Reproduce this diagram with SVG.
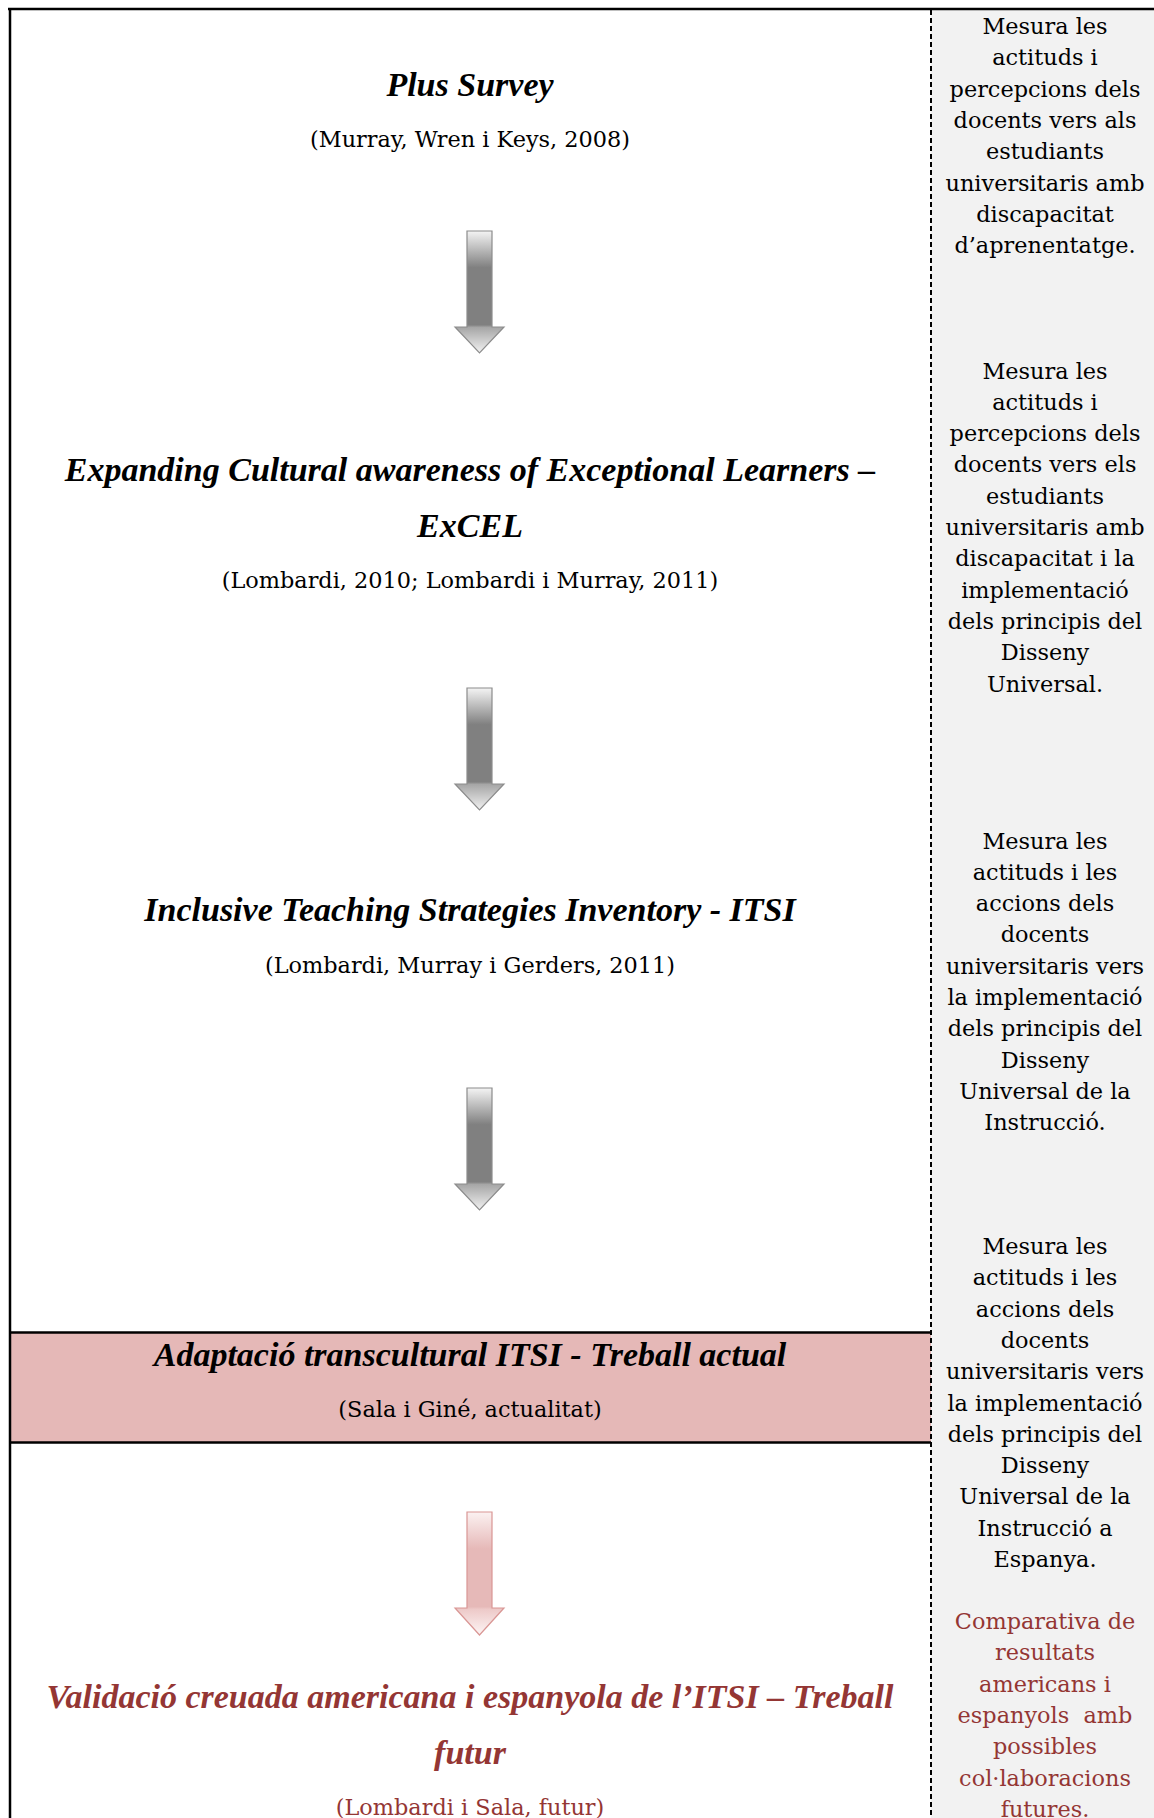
<svg xmlns="http://www.w3.org/2000/svg" width="1154" height="1818" viewBox="0 0 1154 1818">
<style>
.t{font-family:"Liberation Serif","Times New Roman",serif;font-weight:bold;font-style:italic;font-size:34px;text-anchor:middle;fill:#000}
.c{font-family:"DejaVu Serif",serif;font-size:22.4px;text-anchor:middle;fill:#000}
.r{font-family:"DejaVu Serif",serif;font-size:22.4px;text-anchor:middle;fill:#000}
.red{fill:#943634}
.ln{stroke:#000;stroke-width:2.5;fill:none}
</style>
<defs>
<linearGradient id="gGray" x1="0" y1="0" x2="0" y2="1">
<stop offset="0" stop-color="#f4f4f4"/>
<stop offset="0.3" stop-color="#808080"/>
<stop offset="0.77" stop-color="#808080"/>
<stop offset="0.79" stop-color="#a6a6a6"/>
<stop offset="1" stop-color="#f2f2f2"/>
</linearGradient>
<linearGradient id="gPink" x1="0" y1="0" x2="0" y2="1">
<stop offset="0" stop-color="#fbf1f1"/>
<stop offset="0.3" stop-color="#e6b9b8"/>
<stop offset="0.77" stop-color="#e6b9b8"/>
<stop offset="0.79" stop-color="#edc9c8"/>
<stop offset="1" stop-color="#fdf5f5"/>
</linearGradient>
</defs>

<rect x="931" y="9" width="223" height="1809" fill="#f2f2f2"/>
<rect x="10" y="1332.5" width="921" height="110" fill="#e5b8b7"/>
<line class="ln" x1="8" y1="9" x2="1154" y2="9"/>
<line class="ln" x1="10" y1="8" x2="10" y2="1818"/>
<line class="ln" x1="10" y1="1332.5" x2="931" y2="1332.5"/>
<line class="ln" x1="10" y1="1442.5" x2="931" y2="1442.5"/>
<line x1="931" y1="10" x2="931" y2="1818" stroke="#000" stroke-width="2" stroke-dasharray="5 3"/>

<g id="connectors">
<path d="M467,231 H492 V327 H504 L479.5,353 L455,327 H467 Z" fill="url(#gGray)" stroke="#8c8c8c" stroke-width="1.2"/>
<path d="M467,688 H492 V784 H504 L479.5,810 L455,784 H467 Z" fill="url(#gGray)" stroke="#8c8c8c" stroke-width="1.2"/>
<path d="M467,1088 H492 V1184 H504 L479.5,1210 L455,1184 H467 Z" fill="url(#gGray)" stroke="#8c8c8c" stroke-width="1.2"/>
<path d="M467,1512 H492 V1608 H504 L479.5,1635 L455,1608 H467 Z" fill="url(#gPink)" stroke="#d99694" stroke-width="1.2"/>
</g>

<g id="node-plus-survey">
<text class="t" x="470" y="96">Plus Survey</text>
<text class="c" x="470" y="146.5">(Murray, Wren i Keys, 2008)</text>
</g>
<g id="node-excel">
<text class="t" x="470" y="481">Expanding Cultural awareness of Exceptional Learners –</text>
<text class="t" x="470" y="537">ExCEL</text>
<text class="c" x="470" y="587.5">(Lombardi, 2010; Lombardi i Murray, 2011)</text>
</g>
<g id="node-itsi">
<text class="t" x="470" y="921">Inclusive Teaching Strategies Inventory - ITSI</text>
<text class="c" x="470" y="972.5">(Lombardi, Murray i Gerders, 2011)</text>
</g>
<g id="node-adaptacio">
<text class="t" x="470" y="1366">Adaptació transcultural ITSI - Treball actual</text>
<text class="c" x="470" y="1417">(Sala i Giné, actualitat)</text>
</g>
<g id="node-validacio">
<text class="t red" x="470" y="1708">Validació creuada americana i espanyola de l’ITSI – Treball</text>
<text class="t red" x="470" y="1764">futur</text>
<text class="c red" x="470" y="1815">(Lombardi i Sala, futur)</text>
</g>

<g id="desc-1">
<text class="r" x="1045" y="34"><tspan x="1045">Mesura les</tspan><tspan x="1045" dy="31.3">actituds i</tspan><tspan x="1045" dy="31.3">percepcions dels</tspan><tspan x="1045" dy="31.3">docents vers als</tspan><tspan x="1045" dy="31.3">estudiants</tspan><tspan x="1045" dy="31.3">universitaris amb</tspan><tspan x="1045" dy="31.3">discapacitat</tspan><tspan x="1045" dy="31.3">d’aprenentatge.</tspan></text>
</g>
<g id="desc-2">
<text class="r" x="1045" y="378.5"><tspan x="1045">Mesura les</tspan><tspan x="1045" dy="31.3">actituds i</tspan><tspan x="1045" dy="31.3">percepcions dels</tspan><tspan x="1045" dy="31.3">docents vers els</tspan><tspan x="1045" dy="31.3">estudiants</tspan><tspan x="1045" dy="31.3">universitaris amb</tspan><tspan x="1045" dy="31.3">discapacitat i la</tspan><tspan x="1045" dy="31.3">implementació</tspan><tspan x="1045" dy="31.3">dels principis del</tspan><tspan x="1045" dy="31.3">Disseny</tspan><tspan x="1045" dy="31.3">Universal.</tspan></text>
</g>
<g id="desc-3">
<text class="r" x="1045" y="848.5"><tspan x="1045">Mesura les</tspan><tspan x="1045" dy="31.3">actituds i les</tspan><tspan x="1045" dy="31.3">accions dels</tspan><tspan x="1045" dy="31.3">docents</tspan><tspan x="1045" dy="31.3">universitaris vers</tspan><tspan x="1045" dy="31.3">la implementació</tspan><tspan x="1045" dy="31.3">dels principis del</tspan><tspan x="1045" dy="31.3">Disseny</tspan><tspan x="1045" dy="31.3">Universal de la</tspan><tspan x="1045" dy="31.3">Instrucció.</tspan></text>
</g>
<g id="desc-4">
<text class="r" x="1045" y="1254"><tspan x="1045">Mesura les</tspan><tspan x="1045" dy="31.3">actituds i les</tspan><tspan x="1045" dy="31.3">accions dels</tspan><tspan x="1045" dy="31.3">docents</tspan><tspan x="1045" dy="31.3">universitaris vers</tspan><tspan x="1045" dy="31.3">la implementació</tspan><tspan x="1045" dy="31.3">dels principis del</tspan><tspan x="1045" dy="31.3">Disseny</tspan><tspan x="1045" dy="31.3">Universal de la</tspan><tspan x="1045" dy="31.3">Instrucció a</tspan><tspan x="1045" dy="31.3">Espanya.</tspan></text>
</g>
<g id="desc-5">
<text class="r red" x="1045" y="1629" style="white-space:pre"><tspan x="1045">Comparativa de</tspan><tspan x="1045" dy="31.3">resultats</tspan><tspan x="1045" dy="31.3">americans i</tspan><tspan x="1045" dy="31.3">espanyols  amb</tspan><tspan x="1045" dy="31.3">possibles</tspan><tspan x="1045" dy="31.3">col·laboracions</tspan><tspan x="1045" dy="31.3">futures.</tspan></text>
</g>
</svg>
